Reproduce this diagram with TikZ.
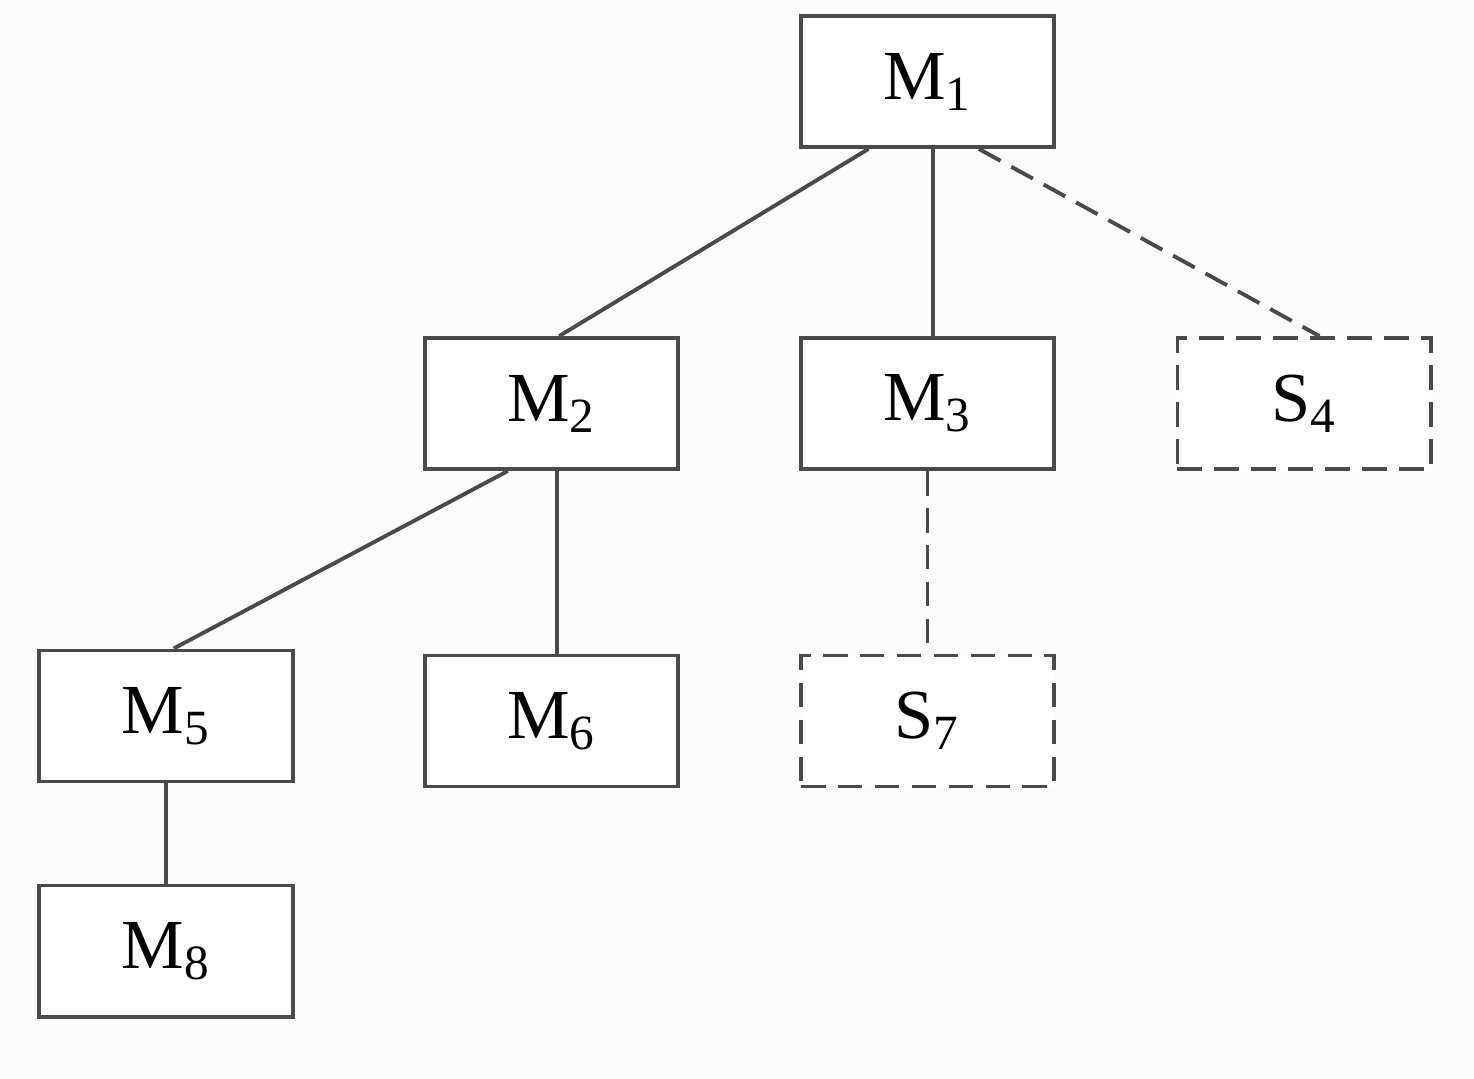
\documentclass[tikz,border=0pt]{standalone}
\usepackage{fontspec}
\setmainfont{Liberation Serif}
\usetikzlibrary{calc}
\definecolor{linegray}{HTML}{4A4A4A}
\definecolor{paper}{HTML}{FCFCFC}

\begin{document}
\begin{tikzpicture}[
  x=0.01cm, y=-0.01cm,
  box/.style={rectangle, draw=linegray, line width=1.1pt, fill=white, minimum width=2.53cm, minimum height=1.31cm, inner sep=0pt, font=\fontsize{20}{24}\selectfont},
  mbox/.style={box},
  sbox/.style={box, dash pattern=on 7pt off 3.5pt},
  link/.style={draw=linegray, line width=1.1pt},
  slink/.style={link, dash pattern=on 7pt off 3.5pt}
]
\fill[paper] (0,0) rectangle (1474,1078);
\useasboundingbox (0,0) rectangle (1474,1078);

% Niveau 1
\node[mbox] (m1) at (927.5,81.5) {M\textsubscript{1}};

% Niveau 2
\node[mbox] (m2) at (551.5,403.5) {M\textsubscript{2}};
\node[mbox] (m3) at (927.5,403.5) {M\textsubscript{3}};
\node[sbox] (s4) at (1304,403.5) {S\textsubscript{4}};

% Niveau 3
\node[mbox] (m5) at (166,716) {M\textsubscript{5}};
\node[mbox] (m6) at (551.5,721) {M\textsubscript{6}};
\node[sbox] (s7) at (927.5,721) {S\textsubscript{7}};

% Niveau 4
\node[mbox] (m8) at (166,951) {M\textsubscript{8}};

% Liaisons
\draw[link] ($(m1.south west)!0.27!(m1.south east)$) -- ($(m2.north west)!0.53!(m2.north east)$);
\draw[link] ($(m1.south west)!0.52!(m1.south east)$) -- ($(m3.north west)!0.52!(m3.north east)$);
\draw[slink] ($(m1.south west)!0.70!(m1.south east)$) -- ($(s4.north west)!0.56!(s4.north east)$);
\draw[link] ($(m2.south west)!0.33!(m2.south east)$) -- ($(m5.north west)!0.53!(m5.north east)$);
\draw[link] ($(m2.south west)!0.52!(m2.south east)$) -- ($(m6.north west)!0.52!(m6.north east)$);
\draw[slink] (m3.south) -- (s7.north);
\draw[link] (m5.south) -- (m8.north);

\end{tikzpicture}
\end{document}
